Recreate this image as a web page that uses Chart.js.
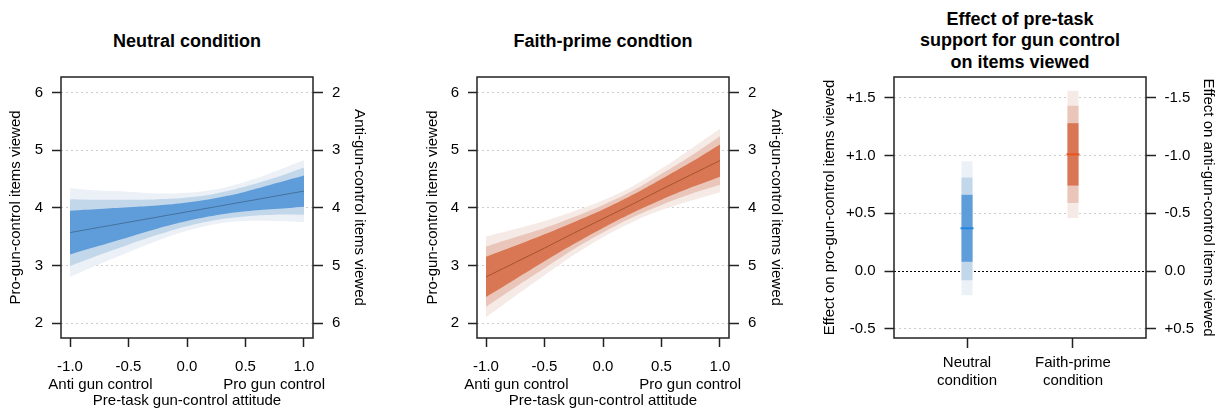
<!DOCTYPE html>
<html>
<head>
<meta charset="utf-8">
<script src="https://cdn.jsdelivr.net/npm/chart.js@4.4.1/dist/chart.umd.min.js"></script>
<style>
  html, body { margin: 0; padding: 0; background: #fff; width: 1219px; height: 410px; overflow: hidden;
    font-family: 'Liberation Sans', Arial, sans-serif; }
  canvas { position: absolute; top: 0; }
  .ttl { position: absolute; width: 320px; text-align: center; font-weight: bold; font-size: 18px;
    color: #000; }
</style>
</head>
<body>
<div class="ttl" style="left:27px; top:30px; line-height:22px;">Neutral condition</div>
<div class="ttl" style="left:443px; top:30px; line-height:22px;">Faith-prime condtion</div>
<div class="ttl" style="left:860px; top:8.5px; line-height:21.5px;">Effect of pre-task<br>support for gun control<br>on items viewed</div>

<canvas id="neutral" width="400" height="410" style="left:0;"></canvas>
<canvas id="faith" width="400" height="410" style="left:400px;"></canvas>
<canvas id="effect" width="419" height="410" style="left:800px;"></canvas>

<script>
// ---- data ---------------------------------------------------------------
// pre-task attitude (x) grid and predicted pro-gun-control items viewed
const attitude = [-1, -0.75, -0.5, -0.25, 0, 0.25, 0.5, 0.75, 1];

const neutralFit = [3.57, 3.66, 3.75, 3.84, 3.93, 4.02, 4.11, 4.20, 4.29];
const neutralLo1 = [3.19, 3.34, 3.49, 3.64, 3.77, 3.87, 3.94, 3.98, 4.02];
const neutralHi1 = [3.95, 3.98, 4.01, 4.04, 4.09, 4.17, 4.28, 4.42, 4.56];
const neutralLo2 = [2.99, 3.18, 3.36, 3.53, 3.68, 3.79, 3.85, 3.88, 3.88];
const neutralHi2 = [4.15, 4.14, 4.14, 4.15, 4.18, 4.25, 4.37, 4.52, 4.70];
const neutralLo3 = [2.80, 3.02, 3.23, 3.43, 3.60, 3.72, 3.77, 3.77, 3.75];
const neutralHi3 = [4.34, 4.30, 4.28, 4.25, 4.26, 4.32, 4.45, 4.63, 4.83];

const faithFit = [2.80, 3.05, 3.30, 3.56, 3.81, 4.06, 4.32, 4.57, 4.82];
const faithLo1 = [2.45, 2.76, 3.07, 3.37, 3.65, 3.91, 4.14, 4.35, 4.54];
const faithHi1 = [3.15, 3.34, 3.54, 3.75, 3.97, 4.22, 4.50, 4.79, 5.10];
const faithLo2 = [2.28, 2.62, 2.95, 3.28, 3.57, 3.83, 4.05, 4.24, 4.40];
const faithHi2 = [3.33, 3.49, 3.65, 3.84, 4.05, 4.29, 4.59, 4.90, 5.24];
const faithLo3 = [2.10, 2.47, 2.83, 3.18, 3.49, 3.75, 3.96, 4.12, 4.27];
const faithHi3 = [3.50, 3.63, 3.77, 3.94, 4.13, 4.37, 4.68, 5.02, 5.37];

// slope of attitude per condition, with three interval widths
const conditions = [['Neutral', 'condition'], ['Faith-prime', 'condition']];
const effectEst = [0.37, 1.01];
const effectLo1 = [0.08, 0.74];
const effectHi1 = [0.66, 1.28];
const effectLo2 = [-0.08, 0.59];
const effectHi2 = [0.81, 1.43];
const effectLo3 = [-0.21, 0.46];
const effectHi3 = [0.95, 1.56];

// ticks
const attitudeTicks = [-1, -0.5, 0, 0.5, 1];
const attitudeTickLabels = ['-1.0', '-0.5', '0.0', '0.5', '1.0'];
const attitudeEndLabels = ['Anti gun control', 'Pro gun control'];
const itemTicks = [2, 3, 4, 5, 6];
const proItemLabels = ['2', '3', '4', '5', '6'];
const antiItemLabels = ['6', '5', '4', '3', '2'];
const effectTicks = [-0.5, 0, 0.5, 1, 1.5];
const effectProLabels = ['-0.5', '0.0', '+0.5', '+1.0', '+1.5'];
const effectAntiLabels = ['+0.5', '0.0', '-0.5', '-1.0', '-1.5'];

// ---- shared styling -----------------------------------------------------
const FAMILY = "'Liberation Sans', Arial, sans-serif";
const FONT = { family: FAMILY, size: 15, lineHeight: 1.2 };
const INK = '#222';
const GRID = '#cdcdcd';

const BLUE = { line: '#44729f', c1: '#5f9dda', c2: '#c3d7eb', c3: '#ecf1f8', mark: '#1f86e6' };
const ORANGE = { line: '#a8512f', c1: '#d97754', c2: '#e9c6b9', c3: '#f6eae6', mark: '#e8521e' };

const fixedTicks = values => scale => { scale.ticks = values.map(v => ({ value: v })); };

// box around the plotting region
const frame = {
  id: 'frame',
  afterDatasetsDraw(chart) {
    const { ctx, chartArea: a } = chart;
    ctx.save();
    ctx.strokeStyle = INK;
    ctx.lineWidth = 1.5;
    ctx.strokeRect(a.left, a.top, a.right - a.left, a.bottom - a.top);
    ctx.restore();
  }
};

// "Anti gun control" / "Pro gun control" under the attitude axis
const endLabels = {
  id: 'endLabels',
  afterDraw(chart) {
    const s = chart.scales.x;
    const { ctx } = chart;
    const y = s.top + 9 + 11 + FONT.size * FONT.lineHeight * 1.5;
    ctx.save();
    ctx.font = `${FONT.size}px ${FAMILY}`;
    ctx.fillStyle = '#000';
    ctx.textAlign = 'center';
    ctx.textBaseline = 'middle';
    ctx.fillText(attitudeEndLabels[0], s.getPixelForValue(-0.74), y);
    ctx.fillText(attitudeEndLabels[1], s.getPixelForValue(0.745), y);
    ctx.restore();
  }
};

function pts(ys) { return attitude.map((x, i) => ({ x, y: ys[i] })); }

function band(hi, lo, color, order) {
  const common = { pointRadius: 0, borderColor: 'rgba(0,0,0,0)', borderWidth: 0, tension: 0.4, order };
  return [
    Object.assign({ data: pts(hi), fill: '+1', backgroundColor: color }, common),
    Object.assign({ data: pts(lo), fill: false }, common)
  ];
}

function attitudePanel(id, fit, bands, pal, leftW, rightW, leftTitlePad, rightTitlePad) {
  const yRange = { min: 1.74, max: 6.27 };
  new Chart(document.getElementById(id), {
    type: 'line',
    data: {
      datasets: [
        { data: pts(fit), borderColor: pal.line, borderWidth: 1, pointRadius: 0, fill: false, order: 0 },
        ...band(bands[0][1], bands[0][0], pal.c1, 1),
        ...band(bands[1][1], bands[1][0], pal.c2, 2),
        ...band(bands[2][1], bands[2][0], pal.c3, 3)
      ]
    },
    options: {
      responsive: false, animation: false, devicePixelRatio: 1,
      layout: { padding: { top: 77, left: 0, right: 0, bottom: 0 } },
      plugins: { legend: { display: false }, tooltip: { enabled: false }, title: { display: false } },
      scales: {
        x: {
          type: 'linear', min: -1.077, max: 1.077,
          afterBuildTicks: fixedTicks(attitudeTicks),
          afterFit: s => { s.height = 72; },
          grid: { drawOnChartArea: false, drawTicks: true, tickLength: 9, tickColor: INK, tickWidth: 1.5 },
          border: { display: false },
          ticks: { font: FONT, color: '#000', padding: 11, maxRotation: 0, autoSkip: false,
                   callback: (v, i) => attitudeTickLabels[i] },
          title: { display: true, text: 'Pre-task gun-control attitude', font: FONT, color: '#000',
                   padding: { top: 0, bottom: 0 } }
        },
        y: Object.assign({
          position: 'left',
          afterBuildTicks: fixedTicks(itemTicks),
          afterFit: s => { s.width = leftW; },
          grid: { color: GRID, lineWidth: 1, drawTicks: true, tickLength: 9, tickColor: INK, tickWidth: 1.5 },
          border: { display: false, dash: [2, 3] },
          ticks: { font: FONT, color: '#000', padding: 9, callback: (v, i) => proItemLabels[i] },
          title: { display: true, text: 'Pro-gun-control items viewed', font: FONT, color: '#000',
                   padding: { top: leftTitlePad, bottom: 0 } }
        }, yRange),
        y2: Object.assign({
          position: 'right', display: true,
          afterBuildTicks: fixedTicks(itemTicks),
          afterFit: s => { s.width = rightW; },
          grid: { drawOnChartArea: false, drawTicks: true, tickLength: 10, tickColor: INK, tickWidth: 1.5 },
          border: { display: false },
          ticks: { font: FONT, color: '#000', padding: 9, callback: (v, i) => antiItemLabels[i] },
          title: { display: true, text: 'Anti-gun-control items viewed', font: FONT, color: '#000',
                   padding: { top: rightTitlePad, bottom: 0 } }
        }, yRange)
      }
    },
    plugins: [frame, endLabels]
  });
}

attitudePanel('neutral', neutralFit,
  [[neutralLo1, neutralHi1], [neutralLo2, neutralHi2], [neutralLo3, neutralHi3]],
  BLUE, 61, 87, 7, 31.5);

attitudePanel('faith', faithFit,
  [[faithLo1, faithHi1], [faithLo2, faithHi2], [faithLo3, faithHi3]],
  ORANGE, 77, 71, 23.5, 15);

// ---- effect panel -------------------------------------------------------
const palettes = [BLUE, ORANGE];
const positions = conditions.map((_, i) => i + 1);
const intervals = [
  { lo: effectLo3, hi: effectHi3, key: 'c3', order: 3 },
  { lo: effectLo2, hi: effectHi2, key: 'c2', order: 2 },
  { lo: effectLo1, hi: effectHi1, key: 'c1', order: 1 }
];
const effectSets = [];
positions.forEach((px, i) => {
  intervals.forEach(iv => {
    effectSets.push({
      data: [{ x: px, y: iv.lo[i] }, { x: px, y: iv.hi[i] }],
      borderColor: palettes[i][iv.key], borderWidth: 11, borderCapStyle: 'butt',
      pointRadius: 0, fill: false, order: iv.order
    });
  });
  effectSets.push({
    data: [{ x: px, y: effectEst[i] }],
    showLine: false, pointStyle: 'line', pointRadius: 6.5, pointBorderWidth: 2,
    pointBorderColor: palettes[i].mark, borderColor: palettes[i].mark, order: 0
  });
});

const effectRange = { min: -0.58, max: 1.68 };
const isZero = ctx => ctx.tick && ctx.tick.value === 0;

new Chart(document.getElementById('effect'), {
  type: 'line',
  data: { datasets: effectSets },
  options: {
    responsive: false, animation: false, devicePixelRatio: 1,
    layout: { padding: { top: 77, left: 0, right: 0, bottom: 0 } },
    plugins: { legend: { display: false }, tooltip: { enabled: false }, title: { display: false } },
    scales: {
      x: {
        type: 'linear', min: 0.311, max: 2.689,
        afterBuildTicks: fixedTicks(positions),
        afterFit: s => { s.height = 72; },
        grid: { drawOnChartArea: false, drawTicks: true, tickLength: 10, tickColor: INK, tickWidth: 1.5 },
        border: { display: false },
        ticks: { font: FONT, color: '#000', padding: 5.5, maxRotation: 0, autoSkip: false,
                 callback: (v, i) => conditions[i] }
      },
      y: Object.assign({
        position: 'left',
        afterBuildTicks: fixedTicks(effectTicks),
        afterFit: s => { s.width = 94; },
        grid: { color: ctx => isZero(ctx) ? '#000' : GRID, lineWidth: 1, drawTicks: true,
                tickLength: 9.5, tickColor: INK, tickWidth: 1.5 },
        border: { display: false, dash: ctx => isZero(ctx) ? [2, 2] : [2, 3] },
        ticks: { font: FONT, color: '#000', padding: 9, callback: (v, i) => effectProLabels[i] },
        title: { display: true, text: 'Effect on pro-gun-control items viewed', font: FONT, color: '#000',
                 padding: { top: 21, bottom: 0 } }
      }, effectRange),
      y2: Object.assign({
        position: 'right', display: true,
        afterBuildTicks: fixedTicks(effectTicks),
        afterFit: s => { s.width = 73; },
        grid: { drawOnChartArea: false, drawTicks: true, tickLength: 10, tickColor: INK, tickWidth: 1.5 },
        border: { display: false },
        ticks: { font: FONT, color: '#000', padding: 8.5, callback: (v, i) => effectAntiLabels[i] },
        title: { display: true, text: 'Effect on anti-gun-control items viewed', font: FONT, color: '#000',
                 padding: { top: 1.7, bottom: 0 } }
      }, effectRange)
    }
  },
  plugins: [frame]
});
</script>
</body>
</html>
